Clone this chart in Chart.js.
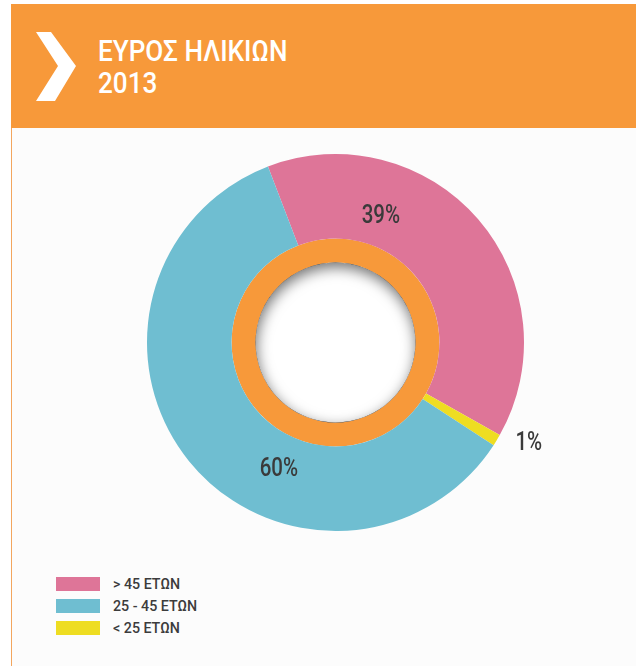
<!DOCTYPE html>
<html>
<head>
<meta charset="utf-8">
<script src="https://cdn.jsdelivr.net/npm/chart.js@4"></script>
<style>
  html, body { margin: 0; padding: 0; background: #fff; }
  body { width: 636px; height: 666px; position: relative; overflow: hidden;
         font-family: Roboto, "DejaVu Sans Condensed", sans-serif; }
  .header { position: absolute; left: 11px; top: 4px; width: 625px; height: 124px; background: #f7993a; }
  .header svg { position: absolute; left: 0; top: 0; }
  .title { position: absolute; left: 87px; top: 31px; color: #fff; font-size: 29px; line-height: 32px;
           font-weight: 500; transform: scaleX(0.9); transform-origin: left top; white-space: nowrap; }
  .panel { position: absolute; left: 11px; top: 128px; width: 625px; height: 538px;
           background: #fcfcfc; border-left: 1px solid #f3a65e; }
  .chart-box { position: absolute; left: 0; top: 128px; width: 636px; height: 440px; }
  .legend { position: absolute; left: 56px; top: 577px; }
  .legend div { height: 14px; margin-bottom: 8px; position: relative; }
  .legend span.sw { position: absolute; left: 0; top: 0; width: 44px; height: 14px; }
  .legend span.tx { position: absolute; left: 57px; top: -2px; font-size: 15px; font-weight: 500;
                    color: #3c3c3c; white-space: nowrap; line-height: 18px;
                    transform: scaleX(0.95); transform-origin: left top; }
</style>
</head>
<body>
<div class="panel"></div>
<div class="header">
  <svg width="100" height="124">
    <polygon points="25,28 40,28 65,62 44,97 25,97 47,62" fill="#fff"/>
  </svg>
  <div class="title">ΕΥΡΟΣ ΗΛΙΚΙΩΝ<br>2013</div>
</div>
<div class="chart-box"><canvas id="myChart"></canvas></div>
<div class="legend" id="legend"></div>

<script>
// Данные
const categories = ["> 45 ΕΤΩΝ", "< 25 ΕΤΩΝ", "25 - 45 ΕΤΩΝ"];
const shares = [39, 1, 60];
const colors = ["#de7598", "#eedd22", "#6fbed1"];
const legendOrder = [0, 2, 1];

// где ставить подписи: доля вдоль дуги и радиус относительно внешнего
const labelSpots = [
  { f: 0.29, r: 0.713 },
  { f: -0.55, r: 1.155 },
  { f: 0.376, r: 0.732 },
];

// легенда
const legend = document.getElementById("legend");
legendOrder.forEach(function (i) {
  const row = document.createElement("div");
  row.innerHTML = '<span class="sw" style="background:' + colors[i] + '"></span>' +
    '<span class="tx">' + categories[i] + "</span>";
  legend.appendChild(row);
});

// внутренняя тень + подписи процентов
const extras = {
  id: "extras",
  afterDatasetsDraw(chart) {
    const ctx = chart.ctx;
    const ring = chart.getDatasetMeta(1).data[0];
    const cx = ring.x, cy = ring.y, r = ring.innerRadius;

    ctx.save();
    ctx.beginPath();
    ctx.arc(cx, cy, r, 0, Math.PI * 2);
    ctx.fillStyle = "#ffffff";
    ctx.fill();
    ctx.clip();
    ctx.beginPath();
    ctx.arc(cx, cy, r + 20, 0, Math.PI * 2);
    ctx.lineWidth = 40;
    ctx.strokeStyle = "#000";
    ctx.shadowColor = "rgba(0,0,0,0.55)";
    ctx.shadowBlur = 14;
    ctx.shadowOffsetX = 1;
    ctx.shadowOffsetY = 5;
    ctx.stroke();
    ctx.restore();

    const meta = chart.getDatasetMeta(0);
    ctx.font = "500 25px Roboto, 'DejaVu Sans Condensed', sans-serif";
    ctx.fillStyle = "#3a3a3a";
    ctx.textAlign = "center";
    ctx.textBaseline = "middle";
    meta.data.forEach(function (arc, i) {
      const spot = labelSpots[i];
      const a = arc.startAngle + (arc.endAngle - arc.startAngle) * spot.f;
      const rr = arc.outerRadius * spot.r;
      ctx.save();
      ctx.translate(arc.x + Math.cos(a) * rr, arc.y + Math.sin(a) * rr);
      ctx.scale(0.82, 1);
      ctx.fillText(shares[i] + "%", 0, 1);
      ctx.restore();
    });
  },
};

const config = {
  type: "doughnut",
  data: {
    labels: categories,
    datasets: [
      {
        data: shares,
        backgroundColor: colors,
        borderWidth: 0,
        weight: 84.5,
      },
      {
        data: [1],
        backgroundColor: ["#f7993a"],
        borderWidth: 0,
        weight: 24,
      },
    ],
  },
  options: {
    responsive: true,
    maintainAspectRatio: false,
    animation: false,
    rotation: -21,
    cutout: "42.4%",
    hoverOffset: 0,
    layout: { padding: { left: 147, right: 112, top: 26, bottom: 37 } },
    plugins: {
      legend: { display: false },
      tooltip: { enabled: false },
    },
  },
  plugins: [extras],
};

const myChart = new Chart(document.getElementById("myChart"), config);
</script>
</body>
</html>
